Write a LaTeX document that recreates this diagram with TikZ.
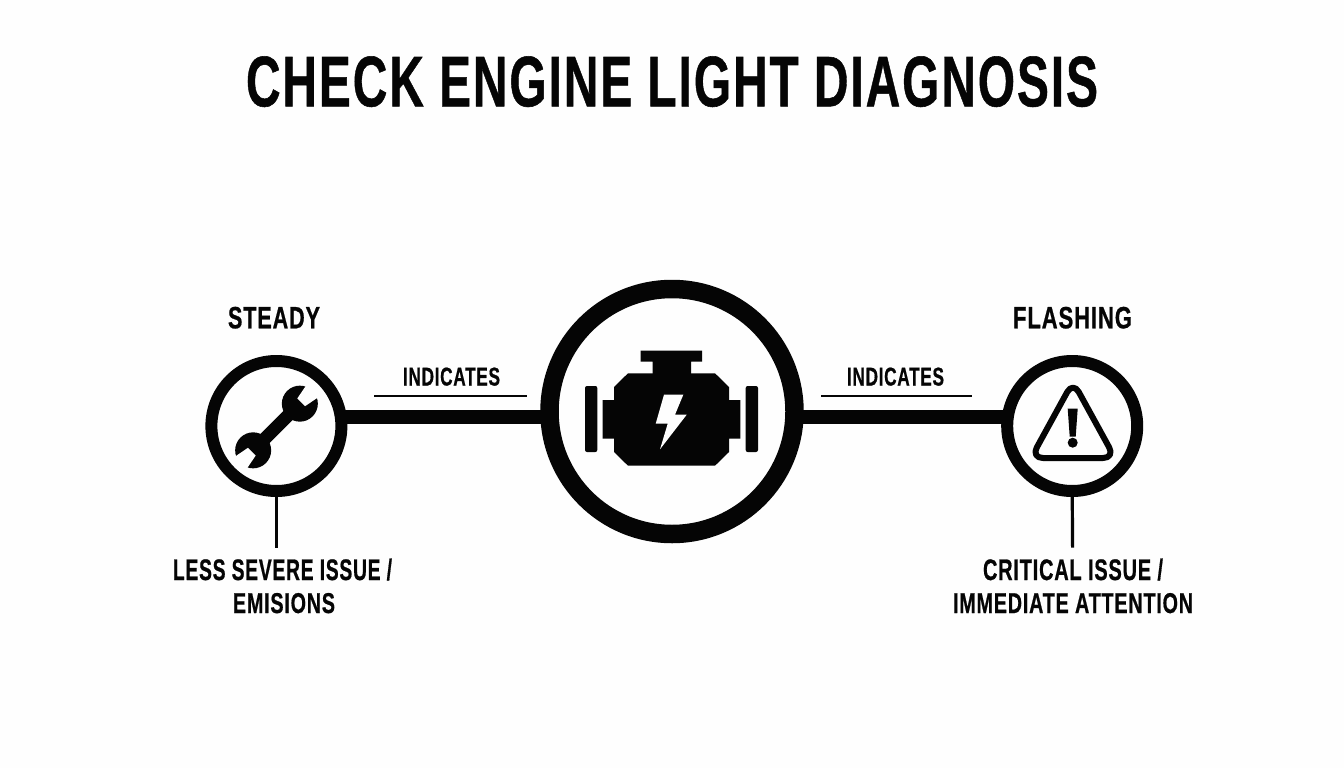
\documentclass[tikz,border=0pt]{standalone}
\usepackage{fontspec}
\usepackage{graphicx}
\setmainfont{Liberation Sans}[LetterSpace=4,BoldFeatures={FakeBold=0.8}]
\definecolor{ink}{HTML}{050505}
\definecolor{paper}{HTML}{FEFEFE}
\newcommand{\fittext}[3]{\resizebox{#1pt}{#2pt}{\bfseries #3}}
\tikzset{
  ring/.style={circle,draw=ink,fill=paper,inner sep=0pt,outer sep=0pt},
  bigring/.style={ring,line width=18.5pt,minimum size=245pt},
  smallring/.style={ring,line width=12pt,minimum size=130pt},
  thickline/.style={draw=ink,line width=13.5pt},
  stemline/.style={draw=ink,line width=3.2pt},
  ruleline/.style={draw=ink,line width=2pt},
  lbl/.style={inner sep=0pt,outer sep=0pt,anchor=base west,text=ink},
  icon/.style={fill=ink,draw=none}
}
\begin{document}
\begin{tikzpicture}[x=1pt,y=-1pt]
\useasboundingbox (0,0) rectangle (1344,768);
\fill[paper] (0,0) rectangle (1344,768);

% circles
\node[bigring] (center) at (672,411.5) {};
\node[smallring] (left) at (276.4,426) {};
\node[smallring] (right) at (1072.2,426) {};

% labels
\node[lbl] (title) at (246,106.3) {\fittext{852}{50}{CHECK ENGINE LIGHT DIAGNOSIS}};
\node[lbl] (steady) at (228,328.3) {\fittext{92}{21.5}{STEADY}};
\node[lbl] (flashing) at (1013,328.3) {\fittext{119}{21.5}{FLASHING}};
\node[lbl] (ind1) at (403,385.5) {\fittext{97}{18}{INDICATES}};
\node[lbl] (ind2) at (847,385.5) {\fittext{97}{18}{INDICATES}};
\node[lbl] (less) at (173,580) {\fittext{219}{21.5}{LESS SEVERE ISSUE /}};
\node[lbl] (emis) at (233,613) {\fittext{102}{20}{EMISIONS}};
\node[lbl] (crit) at (983,580) {\fittext{180}{21.5}{CRITICAL ISSUE /}};
\node[lbl] (imm) at (953,613) {\fittext{240}{20}{IMMEDIATE ATTENTION}};

% connectors
\path (left.center) ++(60,-9) coordinate (la);
\path (center.center) ++(-115,5.5) coordinate (cl);
\path (center.center) ++(115,5.5) coordinate (cr);
\path (right.center) ++(-60,-9) coordinate (ra);
\draw[thickline] (la) -- (cl);
\draw[thickline] (cr) -- (ra);
\coordinate (lessTop) at (276.4,547.7);
\coordinate (critTop) at (1072.6,547.7);
\draw[stemline] (left.south) -- (lessTop);
\draw[stemline] (right.south) -- (critTop);
\coordinate (r1a) at (374,396);
\coordinate (r1b) at (527,396);
\coordinate (r2a) at (821,396);
\coordinate (r2b) at (972,396);
\draw[ruleline] (r1a) -- (r1b);
\draw[ruleline] (r2a) -- (r2b);

% engine icon
\fill[icon] (628,373.3) -- (715,373.3) -- (729,387) -- (729,400) -- (740.3,400) -- (740.3,438.7)
  -- (729,438.7) -- (729,452) -- (715,465.7) -- (628,465.7) -- (614,452) -- (614,438.7)
  -- (602.7,438.7) -- (602.7,400) -- (614,400) -- (614,387) -- cycle;
\fill[icon] (652.7,374) -- (652.7,361.7) -- (640.7,361.7) -- (640.7,350.7) -- (702,350.7)
  -- (702,361.7) -- (691,361.7) -- (691,374) -- cycle;
\fill[icon,rounded corners=2pt] (585,386) rectangle (597.3,452);
\fill[icon,rounded corners=2pt] (745.7,386) rectangle (758,452);
\fill[paper] (664,394.7) -- (683.3,394.7) -- (675,414.7) -- (686.7,414.7) -- (660,449.3)
  -- (667.7,423.7) -- (655.7,423.7) -- cycle;

% wrench icon
\begin{scope}[shift={(276.5,427)},rotate=45]
  \fill[icon] (-33,-6.5) rectangle (33,6.5);
  \fill[icon] (33,0) circle (18);
  \fill[icon] (-33,0) circle (18);
  \fill[paper] (35,-5.5) -- (56,-9.5) -- (56,9.5) -- (35,5.5) -- cycle;
  \fill[paper] (-35,-5.5) -- (-56,-9.5) -- (-56,9.5) -- (-35,5.5) -- cycle;
\end{scope}

% warning icon
\draw[draw=ink,line width=6pt,rounded corners=12pt,line join=round]
  (1073,381.5) -- (1115,458) -- (1031,458) -- cycle;
\fill[icon] (1067.7,408.7) -- (1077.7,408.7) -- (1075.7,436.7) -- (1069.7,436.7) -- cycle;
\fill[icon] (1072.7,442.7) circle (5);
\end{tikzpicture}
\end{document}
